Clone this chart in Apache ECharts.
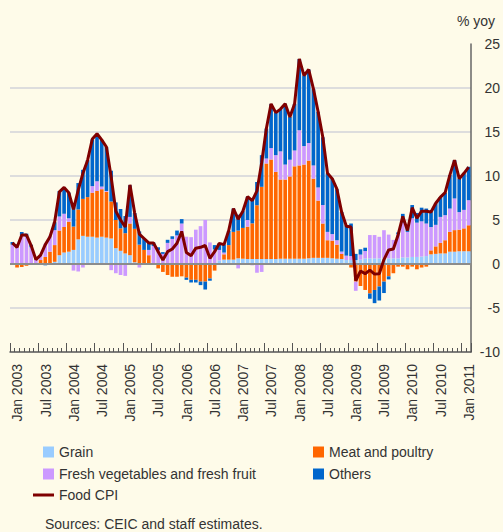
<!DOCTYPE html>
<html>
<head>
<meta charset="utf-8">
<script src="https://cdn.jsdelivr.net/npm/echarts@6/dist/echarts.min.js"></script>
<style>
  html, body { margin: 0; padding: 0; background: #fefbe9; }
  #chart { width: 503px; height: 532px; }
</style>
</head>
<body>
<div id="chart"></div>
<script>
// monthly, Jan 2003 .. Feb 2011 (contributions, percentage points)
const monthNames = ['Jan', 'Feb', 'Mar', 'Apr', 'May', 'Jun', 'Jul', 'Aug', 'Sep', 'Oct', 'Nov', 'Dec'];
const categories = [];
for (let y = 2003; y <= 2011; y++) {
  monthNames.forEach(m => { if (categories.length < 98) categories.push(m + ' ' + y); });
}

const grain = [
  -0.1, 0, 0, 0, 0, 0.05, 0, 0, 0.1, 0.25,
  1.0, 1.3, 1.4, 1.6, 2.8, 3.2, 3.1, 3.1, 3.0, 3.1,
  3.0, 2.9, 1.8, 1.5, 1.2, 1.0, 0.2, -0.1, -0.1, 0.1,
  0.1, 0, 0, 0.1, 0, 0, 0, 0, 0, 0,
  0, 0, -0.1, 0.05, 0.4, 0.5, 0.5, 0.5, 0.65, 0.6,
  0.57, 0.57, 0.57, 0.57, 0.57, 0.57, 0.57, 0.6, 0.6, 0.6,
  0.6, 0.6, 0.6, 0.65, 0.7, 0.7, 0.7, 0.7, 0.65, 0.6,
  0.57, 0.45, 0.45, 0.45, 0.5, 0.64, 0.64, 0.64, 0.64, 0.64,
  0.64, 0.64, 0.64, 0.75, 0.75, 0.8, 0.8, 0.85, 0.9, 1.1,
  1.15, 1.2, 1.2, 1.4, 1.4, 1.45, 1.45, 1.45
];
const meat = [
  0, -0.4, -0.35, -0.2, -0.1, 0.05, 0.45, 0.8, 1.3, 1.9,
  2.8, 2.9, 3.4, 2.65, 3.4, 4.2, 4.5, 5.0, 5.3, 5.4,
  5.2, 4.2, 3.2, 2.55, 2.3, 3.6, 3.8, 2.2, 1.6, 0.9,
  0, -0.5, -0.9, -1.25, -1.45, -1.45, -1.4, -1.55, -1.8, -1.8,
  -2.0, -2.0, -1.55, -0.75, 0, 0.6, 1.65, 3.15, 3.15, 3.5,
  3.67, 4.05, 6.1, 8.2, 10.85, 11.3, 9.9, 9.0, 9.0, 9.35,
  10.5, 10.6, 10.7, 11.1, 9.0, 6.5, 3.9, 2.0, 2.0, 1.6,
  0.57, -0.1, -0.4, -2.0, -2.5, -2.95, -3.35, -2.95, -2.55, -2.0,
  -1.4, -1.05, -0.3, -0.3, -0.6, -0.3, -0.6, -0.4, -0.3, 0.45,
  0.85, 1.2, 1.5, 2.25, 2.45, 2.45, 2.6, 2.95
];
const vegFruit = [
  2.2, 2.05, 3.3, 3.1, 1.9, 0.45, 0.6, 1.5, 1.8, 1.7,
  1.6, 1.5, 0.4, -0.75, -0.85, -0.4, 0, 0.75, 1.1, 0.3,
  0.1, -0.7, -1.05, -1.25, -1.35, 0.75, 0, -0.3, 0, 0.6,
  1.95, 1.6, 1.15, 2.3, 2.85, 3.25, 4.6, 3.1, 3.05, 3.9,
  4.3, 5.0, 2.45, 1.6, 1.2, 0.2, 0, 0, -0.5, 0,
  0.76, -0.15, -1.0, -0.9, 0.57, 1.3, 1.9, 3.2, 1.7, 1.9,
  1.8, 4.0, 2.1, 2.0, 1.5, 1.5, 2.1, 0.95, 0.75, 0.5,
  0.27, 0.5, 0.45, -1.05, 0.57, 0.83, 2.65, 2.65, 2.45, 3.2,
  2.7, 2.1, 2.75, 3.95, 2.9, 4.4, 3.9, 4.0, 3.7, 2.65,
  2.45, 2.95, 2.85, 2.65, 3.6, 2.0, 2.1, 2.85
];
const others = [
  0.3, 0.2, 0.35, 0.35, 0.3, 0, 0, -0.15, 0, 0.9,
  2.9, 2.9, 2.9, 2.7, 3.0, 3.3, 4.2, 5.3, 5.3, 5.3,
  5.0, 3.5, 2.0, 2.2, 1.95, 3.6, 1.8, 1.5, 1.3, 0.9,
  0.4, 0.3, 0.2, 0.35, 0.3, 0.55, 0.5, -0.25, -0.3, -0.3,
  -0.4, -0.9, -0.25, 0.5, 0.75, 0.9, 1.6, 2.65, 1.8, 1.9,
  2.65, 2.7, 2.65, 3.6, 3.4, 5.0, 4.8, 4.8, 6.9, 4.85,
  5.3, 8.1, 8.0, 8.35, 8.7, 8.6, 7.7, 6.65, 6.3, 5.8,
  4.5, 3.45, 3.7, 0.7, 0.6, 0.38, -0.6, -1.5, -1.6, -1.3,
  -0.35, 0, 0.2, 1.0, 0.75, 1.5, 1.1, 1.55, 1.7, 1.7,
  2.45, 2.25, 2.55, 3.8, 4.35, 3.8, 4.15, 3.8
];
const foodCpi = [
  2.4, 1.9, 3.3, 3.3, 2.1, 0.5, 1.0, 2.2, 3.1, 4.8,
  8.2, 8.7, 8.1, 6.2, 8.4, 10.3, 11.8, 14.2, 14.8, 14.1,
  13.3, 9.9, 6.0, 5.0, 4.2, 9.0, 5.8, 3.4, 2.9, 2.4,
  2.4, 1.4, 0.45, 1.4, 1.7, 2.35, 3.7, 1.3, 0.95, 1.8,
  1.9, 2.1, 0.65, 1.4, 2.35, 2.2, 3.8, 6.3, 5.1, 6.0,
  7.65, 7.2, 8.3, 11.5, 15.4, 18.2, 17.2, 17.6, 18.2, 16.7,
  18.2, 23.3, 21.4, 22.1, 19.9, 17.3, 14.4, 10.3, 9.7, 8.5,
  5.9, 4.3, 4.2, -1.9, -0.8, -1.1, -0.7, -1.15, -1.1, 0.5,
  1.6, 1.7, 3.3, 5.4, 3.8, 6.4, 5.2, 6.0, 6.0, 5.9,
  6.9, 7.6, 8.1, 10.1, 11.8, 9.7, 10.3, 11.0
];

const colors = ['#99ccff', '#ff6600', '#cc99ff', '#0066cc', '#7f0000'];
const font = 'Liberation Sans, Arial, sans-serif';
const textColor = '#333';

function barSeries(name, data, color) {
  return {
    name: name,
    type: 'bar',
    stack: 'food',
    data: data,
    barCategoryGap: '22%',
    itemStyle: { color: color },
    emphasis: { disabled: true }
  };
}

const option = {
  animation: false,
  backgroundColor: '#fefbe9',
  textStyle: { fontFamily: font },
  title: [
    {
      text: '% yoy',
      right: 3,
      top: 9,
      textStyle: { fontSize: 14, fontWeight: 'normal', color: textColor, fontFamily: font }
    },
    {
      text: 'Sources: CEIC and staff estimates.',
      left: 40,
      top: 512,
      textStyle: { fontSize: 14, fontWeight: 'normal', color: textColor, fontFamily: font }
    }
  ],
  legend: [
    {
      data: ['Grain', 'Fresh vegetables and fresh fruit'],
      orient: 'vertical', left: 38, top: 440, itemGap: 8,
      icon: 'rect', itemWidth: 11, itemHeight: 11,
      textStyle: { fontSize: 14, color: textColor, fontFamily: font }
    },
    {
      data: ['Meat and poultry', 'Others'],
      orient: 'vertical', left: 308, top: 440, itemGap: 8,
      icon: 'rect', itemWidth: 11, itemHeight: 11,
      textStyle: { fontSize: 14, color: textColor, fontFamily: font }
    },
    {
      data: ['Food CPI'],
      left: 28, top: 483,
      icon: 'rect', itemWidth: 21, itemHeight: 3,
      textStyle: { fontSize: 14, color: textColor, fontFamily: font }
    }
  ],
  grid: { left: 10, right: 32, top: 44, bottom: 180, containLabel: false },
  xAxis: [
    {
      type: 'category',
      data: categories,
      axisLine: { show: true, onZero: false, lineStyle: { color: '#555', width: 1.5 } },
      axisTick: { show: true, inside: true, interval: 5, length: 9, lineStyle: { color: '#555', width: 1 } },
      axisLabel: {
        interval: 5, rotate: 90, margin: 12,
        verticalAlign: 'top', lineHeight: 10,
        fontSize: 14, color: textColor, fontFamily: font
      },
      splitLine: { show: false }
    },
    {
      type: 'category',
      data: categories,
      position: 'bottom',
      axisLine: { show: false, onZero: false },
      axisTick: { show: true, inside: true, interval: 0, length: 4, lineStyle: { color: '#555', width: 1 } },
      axisLabel: { show: false },
      splitLine: { show: false }
    }
  ],
  yAxis: {
    type: 'value',
    position: 'right',
    min: -10,
    max: 25,
    interval: 5,
    axisLine: { show: true, lineStyle: { color: '#666', width: 1.5 } },
    axisTick: { show: false },
    axisLabel: { margin: 29, align: 'right', fontSize: 14, color: textColor, fontFamily: font },
    splitLine: {
      show: true,
      lineStyle: {
        width: 2,
        color: ['rgba(0,0,0,0)', '#dddddd', 'rgba(0,0,0,0)', '#dddddd', '#dddddd', '#dddddd', '#dddddd', 'rgba(0,0,0,0)']
      }
    }
  },
  series: [
    barSeries('Grain', grain, colors[0]),
    barSeries('Meat and poultry', meat, colors[1]),
    barSeries('Fresh vegetables and fresh fruit', vegFruit, colors[2]),
    Object.assign(barSeries('Others', others, colors[3]), {
      markLine: {
        silent: true,
        symbol: 'none',
        label: { show: false },
        lineStyle: { color: '#8c8c8c', width: 2, type: 'solid' },
        data: [{ yAxis: 0 }]
      }
    }),
    {
      name: 'Food CPI',
      type: 'line',
      data: foodCpi,
      z: 5,
      symbol: 'none',
      itemStyle: { color: colors[4] },
      lineStyle: { color: colors[4], width: 3 },
      emphasis: { disabled: true }
    }
  ]
};

const chart = echarts.init(document.getElementById('chart'), null, { renderer: 'svg' });
chart.setOption(option);
</script>
</body>
</html>
